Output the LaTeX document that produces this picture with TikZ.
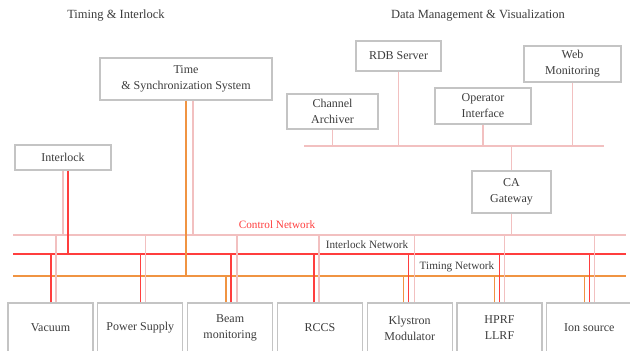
\documentclass[tikz,border=0pt]{standalone}
\usepackage{fontspec}
\setmainfont{Liberation Serif}
\usetikzlibrary{calc}
\definecolor{ctlpink}{RGB}{242,192,192}
\definecolor{ilkred}{RGB}{255,62,62}
\definecolor{timorange}{RGB}{240,148,66}
\definecolor{boxgray}{RGB}{196,196,196}
\definecolor{txtgray}{RGB}{60,60,60}

\begin{document}
\begin{tikzpicture}[x=1pt,y=-1pt,
  box/.style={
    align=center,
    rectangle,
    draw=boxgray,
    line width=1.1pt,
    text=txtgray,
    inner sep=0pt,
    font=\fontsize{12}{16}\selectfont
  },
  unit/.style={
    box,
    minimum width=85pt,
    minimum height=50pt
  },
  head/.style={
    text=txtgray,
    font=\fontsize{12.5}{15}\selectfont
  },
  netlabel/.style={
    inner sep=0pt,
    font=\fontsize{11.2}{14}\selectfont
  },
  ctl/.style={draw=ctlpink, line width=1.3pt},
  ilk/.style={draw=ilkred, line width=1.4pt},
  tim/.style={draw=timorange, line width=1.4pt}
  ]

  \useasboundingbox (0,0) rectangle (630,351);
  \clip (0,0) rectangle (630,351);

  \pgfmathsetmacro{\yc}{235}
  \pgfmathsetmacro{\yi}{254}
  \pgfmathsetmacro{\yt}{276}
  \pgfmathsetmacro{\yd}{146}

  \node [head] (hdtim) at (116,16) {Timing \& Interlock};
  \node [head] (hddm) at (478,16) {Data Management \& Visualization};

  % timing & interlock
  \node [box, minimum width=172pt, minimum height=42pt] (tss) at (186,79)
    {Time\\ \& Synchronization System};
  \node [box, minimum width=96pt, minimum height=25pt] (ilkbox) at (63,157.5)
    {Interlock};

  % data management
  \node [box, minimum width=91pt, minimum height=35pt] (arch) at (332.5,111.5)
    {Channel\\Archiver};
  \node [box, minimum width=85pt, minimum height=30pt] (rdb) at (398.5,56)
    {RDB Server};
  \node [box, minimum width=96pt, minimum height=36pt] (opi) at (483,106)
    {Operator\\Interface};
  \node [box, minimum width=97pt, minimum height=36pt] (web) at (572.5,64)
    {Web\\Monitoring};
  \node [box, minimum width=79pt, minimum height=42pt] (cagw) at (511.5,192)
    {CA\\Gateway};

  % devices
  \node [unit] (vac) at (50.5,328) {Vacuum};
  \node [unit] (ps) at (140.3,328) {Power Supply};
  \node [unit] (bm) at (230.1,328) {Beam\\monitoring};
  \node [unit] (rccs) at (319.9,328) {RCCS};
  \node [unit] (kly) at (409.7,328) {Klystron\\Modulator};
  \node [unit] (hprf) at (499.5,328) {HPRF\\LLRF};
  \node [unit] (ion) at (589.3,328) {Ion source};

  % networks
  \coordinate (dmW) at (304,\yd);
  \coordinate (dmE) at (604,\yd);
  \coordinate (ctlW) at (13,\yc);
  \coordinate (ctlE) at (626,\yc);
  \coordinate (ilkW) at (13,\yi);
  \coordinate (ilkE) at (626,\yi);
  \coordinate (timW) at (13,\yt);
  \coordinate (timE) at (626,\yt);

  \draw [ctl] (dmW) -- (dmE);
  \draw [ctl] (ctlW) -- (ctlE);
  \draw [ilk] (ilkW) -- (ilkE);
  \draw [tim] (timW) -- (timE);

  \node [netlabel, text=ilkred] (lblctl) at (277,225) {Control Network};
  \node [netlabel, text=txtgray] (lblilk) at (367,245) {Interlock Network};
  \node [netlabel, text=txtgray] (lbltim) at (457,267) {Timing Network};

  % server side
  \foreach \n in {arch, rdb, opi, web}
    \draw [ctl] (\n.south) -- (dmW -| \n.south);
  \draw [ctl] (cagw.north) -- (dmW -| cagw.north);
  \draw [ctl] (cagw.south) -- (ctlW -| cagw.south);

  \draw [ctl] (ilkbox.south) -- (ctlW -| ilkbox.south);
  \draw [ilk] ([xshift=5pt]ilkbox.south) -- ([xshift=5pt]ilkW -| ilkbox.south);
  \draw [tim] (tss.south) -- (timW -| tss.south);
  \draw [ctl] ([xshift=7pt]tss.south) -- ([xshift=7pt]ctlW -| tss.south);

  % device side
  \foreach \n/\dx in {vac/5.5, ps/5, bm/7, rccs/-1, kly/5, hprf/5, ion/5}
    \draw [ctl] ([xshift=\dx pt]\n.north) -- ([xshift=\dx pt]ctlW -| \n.north);
  \foreach \n/\dx in {vac/0.5, ps/0, bm/1, rccs/-6, kly/-1, hprf/0, ion/0}
    \draw [ilk] ([xshift=\dx pt]\n.north) -- ([xshift=\dx pt]ilkW -| \n.north);
  \foreach \n/\dx in {bm/-4, kly/-6, hprf/-5, ion/-5}
    \draw [tim] ([xshift=\dx pt]\n.north) -- ([xshift=\dx pt]timW -| \n.north);

\end{tikzpicture}
\end{document}
